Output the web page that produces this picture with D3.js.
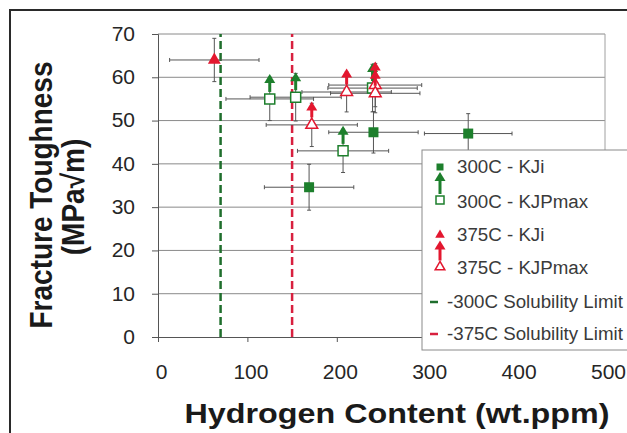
<!DOCTYPE html>
<html>
<head>
<meta charset="utf-8">
<script src="https://cdn.jsdelivr.net/npm/d3@7"></script>
<style>
  body { margin: 0; background: #fff; }
  svg { display: block; font-family: Arial, "Liberation Sans", sans-serif; }
</style>
</head>
<body>
<div id="chart"></div>
<script>
// Values
const xTicks = [0, 100, 200, 300, 400, 500];
const yTicks = [0, 10, 20, 30, 40, 50, 60, 70];

// 300C - KJi (filled squares)
const kji300 = [
  { x: 169, y: 34.6, xe: 50, ye: 5.3 },
  { x: 241, y: 47.3, xe: 50, ye: 4.8 },
  { x: 347, y: 47.0, xe: 49, ye: 4.6 }
];
// 300C - KJPmax (open squares, lower bounds)
const kjp300 = [
  { x: 125, y: 55.0, xe: 49, ye: 5.0 },
  { x: 154, y: 55.4, xe: 51, ye: 5.5 },
  { x: 207, y: 43.0, xe: 51, ye: 5.0 },
  { x: 240, y: 57.5, xe: 50, ye: 5.5 }
];
// 375C - KJi (filled triangles)
const kji375 = [
  { x: 63, y: 64.0, xe: 50, ye: 5.0 }
];
// 375C - KJPmax (open triangles, lower bounds)
const kjp375 = [
  { x: 172, y: 49.0, xe: 51, ye: 5.0 },
  { x: 211, y: 56.6, xe: 50, ye: 4.6 },
  { x: 243, y: 58.2, xe: 52, ye: 5.0 },
  { x: 243, y: 56.3, xe: 50, ye: 4.5 }
];
// solubility limits (wt.ppm)
const solubility = [
  { name: '-300C Solubility Limit', x: 70 },
  { name: '-375C Solubility Limit', x: 150 }
];

const width = 627, height = 433;
const green = '#1d7f2c', red = '#e3172f';
const greenDash = '#1f6e2c', redDash = '#d8203f';

// the reference text is a little wider than plain Arial
function stretch(sel, k) {
  sel.each(function() {
    const w = this.getComputedTextLength();
    d3.select(this).attr('textLength', w * k).attr('lengthAdjust', 'spacingAndGlyphs');
  });
}

const svg = d3.select('#chart').append('svg')
  .attr('width', width)
  .attr('height', height);

// outer frame
svg.append('rect')
  .attr('x', 10).attr('y', 10)
  .attr('width', 640).attr('height', 440)
  .attr('fill', 'none')
  .attr('stroke', '#2a2a2a')
  .attr('stroke-width', 2);

const x = d3.scaleLinear().domain([0, 500]).range([158, 605]);
const y = d3.scaleLinear().domain([0, 70]).range([337, 34]);

// gridlines
svg.append('g')
  .selectAll('line')
  .data(yTicks.filter(d => d > 0))
  .enter().append('line')
  .attr('x1', x(0)).attr('x2', x(500))
  .attr('y1', d => y(d)).attr('y2', d => y(d))
  .attr('stroke', '#8a8a8a')
  .attr('stroke-width', 1);

// right border of plot area
svg.append('line')
  .attr('x1', x(500)).attr('x2', x(500))
  .attr('y1', y(70)).attr('y2', y(0))
  .attr('stroke', '#a0a0a0');

// axes
const yAxis = svg.append('g')
  .attr('transform', `translate(${x(0)},0)`)
  .call(d3.axisLeft(y).tickValues(yTicks).tickSize(6).tickPadding(17));
const xAxis = svg.append('g')
  .attr('transform', `translate(0,${y(0)})`)
  .call(d3.axisBottom(x).tickValues(xTicks).tickSize(5).tickPadding(23));

[xAxis, yAxis].forEach(a => {
  a.select('.domain').attr('stroke', '#555');
  a.selectAll('.tick line').attr('stroke', '#555');
  a.selectAll('.tick text')
    .attr('fill', '#262626')
    .style('font-size', '20px')
    .style('font-family', 'Arial, "Liberation Sans", sans-serif');
  stretch(a.selectAll('.tick text'), 1.05);
});
xAxis.selectAll('.tick text').attr('dx', 3);

// solubility limits
svg.append('g')
  .selectAll('line')
  .data(solubility)
  .enter().append('line')
  .attr('x1', d => x(d.x)).attr('x2', d => x(d.x))
  .attr('y1', y(0)).attr('y2', y(70))
  .attr('stroke', (d, i) => i === 0 ? greenDash : redDash)
  .attr('stroke-width', 2.5)
  .attr('stroke-dasharray', '8,4');

// error bars
function errorBars(data) {
  const g = svg.append('g').attr('stroke', '#555').attr('stroke-width', 1);
  data.forEach(d => {
    const cx = x(d.x), cy = y(d.y);
    g.append('line').attr('x1', x(d.x - d.xe)).attr('x2', x(d.x + d.xe)).attr('y1', cy).attr('y2', cy);
    g.append('line').attr('x1', cx).attr('x2', cx).attr('y1', y(d.y - d.ye)).attr('y2', y(d.y + d.ye));
    [d.x - d.xe, d.x + d.xe].forEach(v => {
      g.append('line').attr('x1', x(v)).attr('x2', x(v)).attr('y1', cy - 2).attr('y2', cy + 2);
    });
    [d.y - d.ye, d.y + d.ye].forEach(v => {
      g.append('line').attr('x1', cx - 2).attr('x2', cx + 2).attr('y1', y(v)).attr('y2', y(v));
    });
  });
}
[kji300, kjp300, kji375, kjp375].forEach(errorBars);

// marker helpers
function arrow(g, cx, cy, color, len) {
  g.append('line')
    .attr('x1', cx).attr('x2', cx)
    .attr('y1', cy - 2).attr('y2', cy - len + 6)
    .attr('stroke', color).attr('stroke-width', 3);
  g.append('path')
    .attr('d', `M${cx},${cy - len} L${cx - 5.5},${cy - len + 9} L${cx + 5.5},${cy - len + 9} Z`)
    .attr('fill', color);
}
const square = d3.symbol().type(d3.symbolSquare);
const tri = d3.symbol().type(d3.symbolTriangle);

function drawKji300(g, cx, cy, s) {
  g.append('path').attr('transform', `translate(${cx},${cy})`)
    .attr('d', square.size(s * s)()).attr('fill', green);
}
function drawKjp300(g, cx, cy, s, len) {
  arrow(g, cx, cy - s / 2, green, len);
  g.append('path').attr('transform', `translate(${cx},${cy})`)
    .attr('d', square.size(s * s)()).attr('fill', '#fff')
    .attr('stroke', green).attr('stroke-width', 1.5);
}
function drawKji375(g, cx, cy, s) {
  g.append('path').attr('transform', `translate(${cx},${cy})`)
    .attr('d', tri.size(s * s * 0.5)()).attr('fill', red);
}
function drawKjp375(g, cx, cy, s, len) {
  arrow(g, cx, cy - s / 2, red, len);
  g.append('path').attr('transform', `translate(${cx},${cy})`)
    .attr('d', tri.size(s * s * 0.5)()).attr('fill', '#fff')
    .attr('stroke', red).attr('stroke-width', 1.5);
}

const marks = svg.append('g');
kjp300.forEach(d => drawKjp300(marks, x(d.x), y(d.y), 10, 20));
kji300.forEach(d => drawKji300(marks, x(d.x), y(d.y), 10));
kjp375.forEach(d => drawKjp375(marks, x(d.x), y(d.y), 11, 18));
kji375.forEach(d => drawKji375(marks, x(d.x), y(d.y), 12));

// legend
const lg = svg.append('g');
lg.append('rect')
  .attr('x', 422).attr('y', 150)
  .attr('width', 230).attr('height', 200)
  .attr('fill', '#fff')
  .attr('stroke', '#8a8a8a');

const legendItems = [
  { label: '300C - KJi', yPos: 167, tx: 457 },
  { label: '300C - KJPmax', yPos: 202, tx: 457 },
  { label: '375C - KJi', yPos: 235, tx: 457 },
  { label: '375C - KJPmax', yPos: 268, tx: 457 },
  { label: solubility[0].name, yPos: 302, tx: 447 },
  { label: solubility[1].name, yPos: 334, tx: 447 }
];
drawKji300(lg, 440, 167, 7);
drawKjp300(lg, 440, 200, 8, 24);
drawKji375(lg, 440, 235, 9);
drawKjp375(lg, 440, 267, 9, 22);
lg.append('line').attr('x1', 430).attr('x2', 438).attr('y1', 302).attr('y2', 302)
  .attr('stroke', greenDash).attr('stroke-width', 2.5);
lg.append('line').attr('x1', 430).attr('x2', 438).attr('y1', 334).attr('y2', 334)
  .attr('stroke', redDash).attr('stroke-width', 2.5);

const legText = lg.selectAll('text.leg')
  .data(legendItems)
  .enter().append('text')
  .attr('class', 'leg')
  .attr('x', d => d.tx)
  .attr('y', d => d.yPos)
  .attr('dy', '0.35em')
  .attr('fill', '#3a3a3a')
  .style('font-size', '18px')
  .text(d => d.label);
stretch(legText, 1.04);

// axis titles
const xTitle = svg.append('text')
  .attr('x', 397).attr('y', 423)
  .attr('text-anchor', 'middle')
  .attr('fill', '#1a1a1a')
  .style('font-size', '28px')
  .style('font-weight', 'bold')
  .text('Hydrogen Content (wt.ppm)');
xTitle.attr('textLength', 425).attr('lengthAdjust', 'spacingAndGlyphs');

svg.append('text')
  .attr('transform', 'translate(52,195) scale(1.12,1) rotate(-90)')
  .attr('text-anchor', 'middle')
  .attr('fill', '#1a1a1a')
  .style('font-size', '28px')
  .style('font-weight', 'bold')
  .text('Fracture Toughness');

svg.append('text')
  .attr('transform', 'translate(84,197) scale(1.12,1) rotate(-90)')
  .attr('text-anchor', 'middle')
  .attr('fill', '#1a1a1a')
  .style('font-size', '28px')
  .style('font-weight', 'bold')
  .text('(MPa\u221Am)');
</script>
</body>
</html>
